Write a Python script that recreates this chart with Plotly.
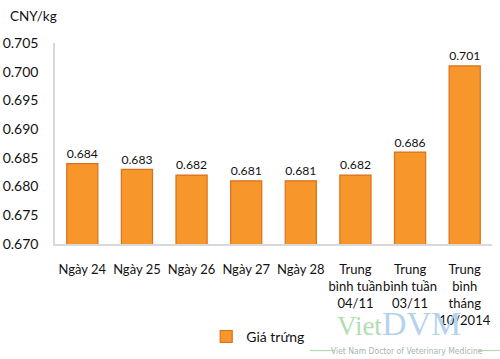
import plotly.graph_objects as go

categories = ["Ngày 24", "Ngày 25", "Ngày 26", "Ngày 27", "Ngày 28",
              "Trung<br>bình tuần<br>04/11", "Trung<br>bình tuần<br>03/11",
              "Trung<br>bình<br>tháng<br>10/2014"]
values = [0.684, 0.683, 0.682, 0.681, 0.681, 0.682, 0.686, 0.701]
series_name = "Giá trứng"
y_ticks = [0.670, 0.675, 0.680, 0.685, 0.690, 0.695, 0.700, 0.705]

FONT = "Lato, Carlito, 'Open Sans', sans-serif"

fig = go.Figure()
fig.add_trace(go.Bar(
    x=categories, y=values, name=series_name,
    marker=dict(color="#F7962A", line=dict(color="#D9711C", width=1.2)),
    text=[f"{v:.3f}" for v in values], textposition="outside",
    textfont=dict(family=FONT, size=14, color="#111111"),
    cliponaxis=False,
))

fig.update_layout(
    width=500, height=359,
    margin=dict(l=55, r=8, t=43, b=114),
    paper_bgcolor="white", plot_bgcolor="white",
    bargap=0.43,
    showlegend=True,
    legend=dict(orientation="h", x=0.465, y=-0.455, xanchor="center", yanchor="middle",
                font=dict(family=FONT, size=14, color="#111111")),
    font=dict(family=FONT, size=14, color="#111111"),
    xaxis=dict(showline=True, linecolor="#D9D9D9", linewidth=1.5, ticks="",
               tickangle=0, automargin=False,
               tickfont=dict(family=FONT, size=13, color="#111111"),
               ticklabelstandoff=13),
    yaxis=dict(range=[0.670, 0.705], tickvals=y_ticks, tickformat=".3f",
               showgrid=False, zeroline=False, showline=True, linecolor="#D9D9D9",
               linewidth=1.5, ticks="", ticklabelstandoff=12, automargin=False,
               tickfont=dict(family=FONT, size=14, color="#111111")),
    annotations=[
        dict(text="CNY/kg", xref="paper", yref="paper", x=-0.108, y=1.134,
             xanchor="left", yanchor="middle", showarrow=False,
             font=dict(family=FONT, size=13.5, color="#111111")),
        dict(text="<span style='color:#B3DDB0'>Viet</span><span style='color:#B5D3EC;font-size:34px'>DVM</span>",
             xref="paper", yref="paper", x=0.787, y=-0.395, xanchor="center", yanchor="middle",
             showarrow=False, font=dict(family="Liberation Serif, serif", size=27)),
        dict(text="Viet Nam Doctor of Veterinary Medicine", xref="paper", yref="paper",
             x=0.805, y=-0.53, xanchor="center", yanchor="middle", showarrow=False,
             font=dict(family="'Liberation Sans Narrow', 'DejaVu Sans Condensed', sans-serif",
                       size=8.5, color="#A9B4AD")),
    ],
    shapes=[
        dict(type="line", xref="paper", yref="paper", x0=0.583, x1=0.64, y0=-0.53, y1=-0.53,
             line=dict(color="#B3DDB0", width=1.2)),
        dict(type="line", xref="paper", yref="paper", x0=0.968, x1=1.02, y0=-0.53, y1=-0.53,
             line=dict(color="#B3DDB0", width=1.2)),
    ],
)

fig.write_html("out.html", config={"displayModeBar": False},
               post_script="document.body.style.margin='0';")
